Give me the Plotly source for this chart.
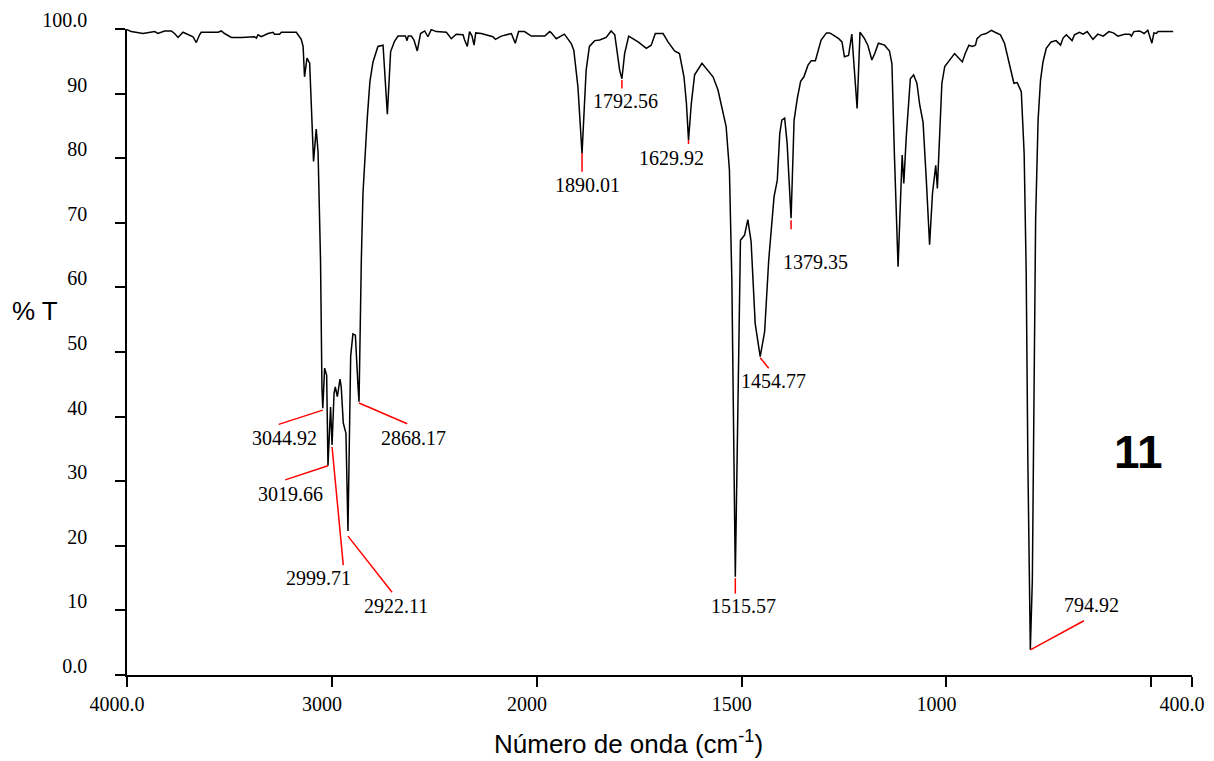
import numpy as np
import plotly.graph_objects as go

# ---- data (wavenumber in cm-1, %T) ----
wavenumber = [4000, 3979, 3922, 3865, 3849, 3817, 3784, 3768, 3751, 3727, 3678, 3662, 3646, 3638,
              3556, 3540, 3524, 3491, 3442, 3378, 3369, 3361, 3345, 3312, 3288, 3280, 3256, 3247,
              3174, 3150, 3141, 3134, 3122, 3109, 3090, 3077, 3068, 3056, 3049, 3044.92, 3036, 3026,
              3019.66, 3007, 2999.71, 2990, 2984, 2974, 2961, 2955, 2945, 2932, 2922.11, 2909, 2898,
              2886, 2873, 2868.17, 2857, 2849, 2828, 2815, 2800, 2776, 2751, 2730, 2714, 2695, 2678,
              2642, 2634, 2628, 2613, 2600, 2584, 2568, 2548, 2532, 2516, 2491, 2442, 2418, 2394,
              2361, 2353, 2340, 2329, 2317, 2307, 2299, 2272, 2247, 2215, 2203, 2174, 2125, 2106,
              2090, 2061, 2028, 2000,
              1981, 1969, 1965, 1953, 1933, 1916, 1910, 1900, 1890.01, 1880, 1872, 1859, 1847, 1831,
              1819, 1810, 1798, 1792.56, 1786, 1776, 1753, 1733, 1721, 1711, 1692, 1680, 1664, 1652,
              1641, 1635, 1629.92, 1623, 1615, 1597, 1586, 1570, 1558, 1538, 1530, 1528, 1524,
              1515.57, 1503, 1493, 1485, 1477, 1467, 1454.77, 1444, 1434, 1429, 1421, 1413, 1407,
              1402, 1395, 1389, 1379.35, 1372, 1364, 1356, 1348, 1338, 1330, 1320, 1314, 1306, 1293,
              1285, 1277, 1263, 1255, 1249, 1239, 1231, 1218, 1211, 1200, 1192, 1182, 1175, 1166,
              1151, 1139, 1133, 1127, 1118, 1108, 1104, 1098, 1088, 1080, 1072, 1065, 1057, 1049,
              1041, 1034, 1026, 1022, 1018, 1011, 1004, 996, 980, 970, 961, 954, 945, 937, 929, 925,
              915, 903, 890, 881, 868, 858, 846, 835, 827, 817, 810, 805, 801, 794.92, 790, 785, 782,
              776, 770, 764, 756, 744, 732, 721, 715, 707, 693, 687, 675, 666, 656, 642, 630, 617,
              603, 592, 581, 565, 552, 548, 542, 528, 517, 508, 505, 498, 493, 487, 483, 446]
transmittance = [99.9, 99.6, 99.3, 99.6, 99.3, 99.7, 99.7, 99.3, 98.7, 99.5, 98.8, 97.9, 99.1, 99.5,
                 99.5, 99.7, 99.3, 98.7, 98.7, 98.8, 98.6, 99.1, 98.8, 99.3, 99.5, 99.2, 99.2, 99.5,
                 99.5, 98.4, 97.3, 92.6, 95.5, 94.7, 79.5, 84.5, 81.0, 64.2, 44.4, 41.3, 47.5, 46.4,
                 32.4, 41.5, 35.6, 43.6, 44.6, 43.1, 45.8, 44.6, 39.0, 37.4, 22.3, 49.3, 52.8,
                 52.6, 44.6, 42.3, 64.2, 74.5, 86.2, 91.9, 94.9, 97.3, 97.5, 86.8, 96.5, 98.1, 98.9,
                 98.9, 98.2, 98.9, 98.9, 98.3, 96.6, 99.3, 99.7, 98.8, 99.9, 99.6, 99.5, 98.5, 99.2,
                 99.1, 98.3, 97.3, 99.6, 98.9, 97.5, 99.4, 99.3, 99.1, 98.8, 98.4, 98.9, 99.3, 97.8,
                 99.6, 99.6, 98.9, 98.9,
                 98.9, 99.6, 99.4, 98.5, 99.2, 97.7, 96.7, 91.0, 80.7, 93.6, 97.3, 98.2, 98.3, 98.7,
                 99.7, 99.1, 93.6, 92.3, 96.2, 98.9, 98.0, 97.0, 97.5, 99.3, 99.3, 98.0, 96.6, 96.2,
                 92.6, 88.5, 82.8, 88.5, 92.9, 94.7, 93.9, 92.6, 90.6, 84.9, 78.2, 70.4, 61.1,
                 15.2, 67.3, 68.1, 70.5, 67.1, 54.4, 49.3, 53.1, 64.2, 67.6, 74.0, 76.6, 83.8,
                 85.9, 86.2, 82.3, 70.7, 85.9, 89.3, 91.9, 92.6, 94.4, 95.1, 95.1, 96.5, 98.3, 99.4,
                 99.4, 99.1, 98.5, 98.0, 95.7, 95.9, 99.2, 87.7, 99.5, 98.5, 97.5, 95.2, 96.2, 97.8,
                 97.5, 96.6, 94.6, 80.7, 63.2, 80.5, 76.1, 83.3, 92.3, 92.9, 91.6, 88.2, 85.6, 76.6,
                 66.6, 74.5, 78.9, 75.3, 80.7, 91.6, 94.2, 94.9, 96.2, 95.5, 94.9, 96.2, 97.5, 97.3, 97.5, 98.5,
                 99.1, 99.3, 99.8, 99.5, 99.1, 97.8, 94.4, 91.6, 91.7, 90.3, 80.7, 62.2, 33.3, 3.9, 14.7, 45.7, 70.4,
                 85.9, 92.1, 94.9, 97.0, 98.0, 98.2, 97.5, 98.6, 99.1, 98.2, 99.1, 99.5, 99.2, 99.6, 98.4, 99.2, 98.9,
                 99.6, 99.4, 98.9, 99.2, 99.2, 98.9, 99.6, 99.7, 99.3, 99.8, 99.1, 97.8, 99.4, 99.3, 99.6, 99.6]

# peak labels
peak_labels = ["3044.92", "3019.66", "2999.71", "2922.11", "2868.17", "1890.01", "1792.56",
               "1629.92", "1515.57", "1454.77", "1379.35", "794.92"]
peak_wn = [3044.92, 3019.66, 2999.71, 2922.11, 2868.17, 1890.01, 1792.56,
           1629.92, 1515.57, 1454.77, 1379.35, 794.92]
peak_t = [41.0, 32.4, 35.3, 21.5, 42.1, 80.8, 92.1, 82.8, 15.0, 49.1, 70.4, 3.9]

x_ticks_left = [4000, 3000, 2000]
x_ticklabels_left = ["4000.0", "3000", "2000"]
x_ticks_right = [1500, 1000, 500, 400]
x_ticklabels_right = ["1500", "1000", " ", "400.0"]
y_ticks = [0, 10, 20, 30, 40, 50, 60, 70, 80, 90, 100]
y_ticklabels = ["0.0", "10", "20", "30", "40", "50", "60", "70", "80", "90", "100.0"]

# ---- layout placement of leader-line ends and label centres (data units) ----
leader_end = [(3260, 38.8), (3228, 30.2), (2945, 17.0), (2707, 12.8), (2633, 38.9),
              (1890.01, 77.9), (1792.56, 90.8), (1629.92, 82.2), (1515.57, 12.6),
              (1434, 47.5), (1379.35, 69.0), (664, 8.4)]
label_pos = [(3233, 36.7), (3203, 28.0), (3067, 15.0), (2686, 10.7), (2603, 36.7),
             (1877, 75.9), (1784, 88.9), (1672, 80.0), (1496, 10.7),
             (1423, 45.5), (1320, 63.9), (646, 10.8)]

wn = np.array(wavenumber, dtype=float)
tr = np.array(transmittance, dtype=float)
left = wn >= 2000
right = wn <= 2000

W, H = 1214, 761
ML, MR, MT, MB = 127, 22, 29, 86
split = 410 / 1065

fig = go.Figure()
fig.add_trace(go.Scatter(x=wn[left], y=tr[left], mode="lines", xaxis="x", yaxis="y",
                         line=dict(color="black", width=1.5), showlegend=False, hoverinfo="skip"))
fig.add_trace(go.Scatter(x=wn[right], y=tr[right], mode="lines", xaxis="x2", yaxis="y",
                         line=dict(color="black", width=1.5), showlegend=False, hoverinfo="skip"))

serif = "Liberation Serif, Times New Roman, serif"
sans = "Liberation Sans, Arial, sans-serif"

shapes = []
annotations = []
for lab, pw, pt, (ex, ey), (lx, ly) in zip(peak_labels, peak_wn, peak_t, leader_end, label_pos):
    xr = "x" if pw > 2000 else "x2"
    shapes.append(dict(type="line", xref=xr, yref="y", x0=pw, y0=pt, x1=ex, y1=ey,
                       line=dict(color="red", width=1.5)))
    annotations.append(dict(text=lab, xref=xr, yref="y", x=lx, y=ly, showarrow=False,
                            xanchor="center", yanchor="middle",
                            font=dict(family=serif, size=20, color="black")))

annotations.append(dict(text="<b>11</b>", xref="x2", yref="y", x=531, y=34.5, showarrow=False,
                        xanchor="center", yanchor="middle",
                        font=dict(family=sans, size=46, color="black")))
annotations.append(dict(text="% T", xref="paper", yref="paper", x=(35 - ML) / 1065, y=(675 - 311) / 646,
                        showarrow=False, xanchor="center", yanchor="middle",
                        font=dict(family=sans, size=26, color="black")))
annotations.append(dict(text="Número de onda (cm<sup>-1</sup>)", xref="paper", yref="paper",
                        x=(628 - ML) / 1065, y=(675 - 742) / 646,
                        showarrow=False, xanchor="center", yanchor="middle",
                        font=dict(family=sans, size=26, color="black")))

axis_common = dict(showgrid=False, zeroline=False, showline=True, linecolor="black", linewidth=1.5,
                   ticks="outside", ticklen=10, tickwidth=1.5, tickcolor="black", automargin=False,
                   tickfont=dict(family=serif, size=20, color="black"), tickmode="array")

fig.update_layout(
    width=W, height=H, autosize=False,
    margin=dict(l=ML, r=MR, t=MT, b=MB, pad=0, autoexpand=False),
    paper_bgcolor="white", plot_bgcolor="white",
    xaxis=dict(domain=[0, split], range=[4000, 2000], anchor="y",
               tickvals=x_ticks_left, ticktext=x_ticklabels_left, ticklabelshift=10, **axis_common),
    xaxis2=dict(domain=[split, 1], range=[2000, 400], anchor="y",
                tickvals=x_ticks_right, ticktext=x_ticklabels_right, ticklabelshift=10, **axis_common),
    yaxis=dict(range=[0, 100], anchor="x", tickvals=y_ticks, ticktext=y_ticklabels,
               ticklabelstandoff=24, ticklabelshift=-9, **axis_common),
    shapes=shapes,
    annotations=annotations,
)

fig.write_html("out.html")
